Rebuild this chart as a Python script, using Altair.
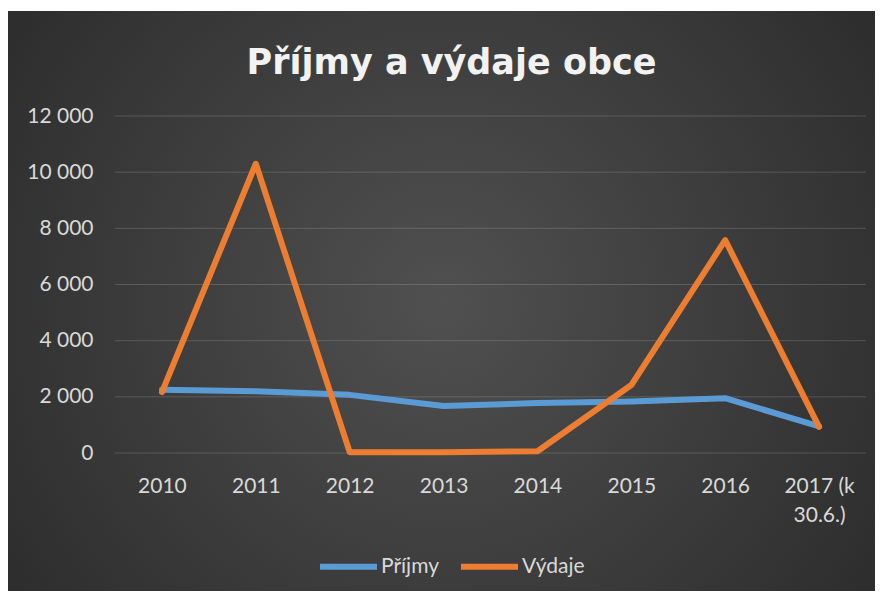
import altair as alt
import pandas as pd

years = ["2010", "2011", "2012", "2013", "2014", "2015", "2016", "2017 (k 30.6.)"]
prijmy = [2250, 2200, 2070, 1670, 1780, 1830, 1950, 950]
vydaje = [2170, 10300, 30, 30, 60, 2420, 7580, 930]
series_names = ["Příjmy", "Výdaje"]
series_colors = ["#5B9BD5", "#ED7D31"]
y_ticks = [0, 2000, 4000, 6000, 8000, 10000, 12000]

rows = []
for name, vals in zip(series_names, [prijmy, vydaje]):
    for yr, v in zip(years, vals):
        rows.append({"rok": yr, "hodnota": v, "serie": name})
df = pd.DataFrame(rows)
grid_df = pd.DataFrame({"t": y_ticks})

FONT = "Lato"
W, H = 751, 337
PAD_L, PAD_T, PAD_R, PAD_B = 107, 108, 9, 138

bg = alt.Chart(pd.DataFrame({"a": [0]})).mark_rect(
    fill={
        "gradient": "radial",
        "x1": 0.5, "y1": 0.5, "r1": 0,
        "x2": 0.5, "y2": 0.5, "r2": 0.72,
        "stops": [
            {"offset": 0, "color": "#505050"},
            {"offset": 1, "color": "#262626"},
        ],
    }
).encode(
    x=alt.value(-PAD_L), x2=alt.value(W + PAD_R),
    y=alt.value(-PAD_T + 3), y2=alt.value(H + PAD_B)
)

grid = alt.Chart(grid_df).mark_rule(color="#d9d9d9", opacity=0.2, strokeWidth=1).encode(
    y=alt.Y("t:Q", scale=alt.Scale(domain=[0, 12000], nice=False))
)

lines = alt.Chart(df).mark_line(strokeWidth=6, strokeCap="round", strokeJoin="round").encode(
    x=alt.X(
        "rok:O",
        sort=years,
        scale=alt.Scale(type="point", padding=0.5),
        axis=alt.Axis(
            title=None,
            labelAngle=0,
            labelExpr="datum.value == '2017 (k 30.6.)' ? ['2017 (k', '30.6.)'] : datum.label",
            labelLineHeight=29,
            labelPadding=22,
            zindex=1,
        ),
    ),
    y=alt.Y(
        "hodnota:Q",
        scale=alt.Scale(domain=[0, 12000], nice=False),
        axis=alt.Axis(
            title=None,
            values=y_ticks,
            labelExpr="replace(format(datum.value, ','), ',', ' ')",
            labelPadding=22,
            zindex=1,
        ),
    ),
    color=alt.Color(
        "serie:N",
        scale=alt.Scale(domain=series_names, range=series_colors),
        legend=alt.Legend(
            title=None,
            orient="none",
            direction="horizontal",
            legendX=202,
            legendY=419,
            symbolType="stroke",
            symbolStrokeWidth=6,
            symbolSize=3249,
            labelFont=FONT,
            labelFontSize=21,
            labelColor="#d9d9d9",
            labelOffset=1,
            columnPadding=10,
        ),
    ),
)

chart = alt.layer(bg, grid, lines).properties(
    width=W,
    height=H,
    autosize=alt.AutoSizeParams(type="none"),
    padding={"left": PAD_L, "top": PAD_T, "right": PAD_R, "bottom": PAD_B},
    background="white",
    title=alt.TitleParams(
        "Příjmy a výdaje obce",
        font="DejaVu Sans",
        fontSize=35,
        fontWeight="bold",
        color="#f2f2f2",
        anchor="middle",
        frame="group",
        baseline="alphabetic",
        offset=41,
        dy=139,
        dx=-39,
    ),
).configure_axis(
    grid=False,
    domain=False,
    ticks=False,
    labelFont=FONT,
    labelFontSize=21,
    labelColor="#d9d9d9",
).configure_view(stroke=None)

chart.save("out.html", embed_options={"renderer": "svg", "actions": False})
